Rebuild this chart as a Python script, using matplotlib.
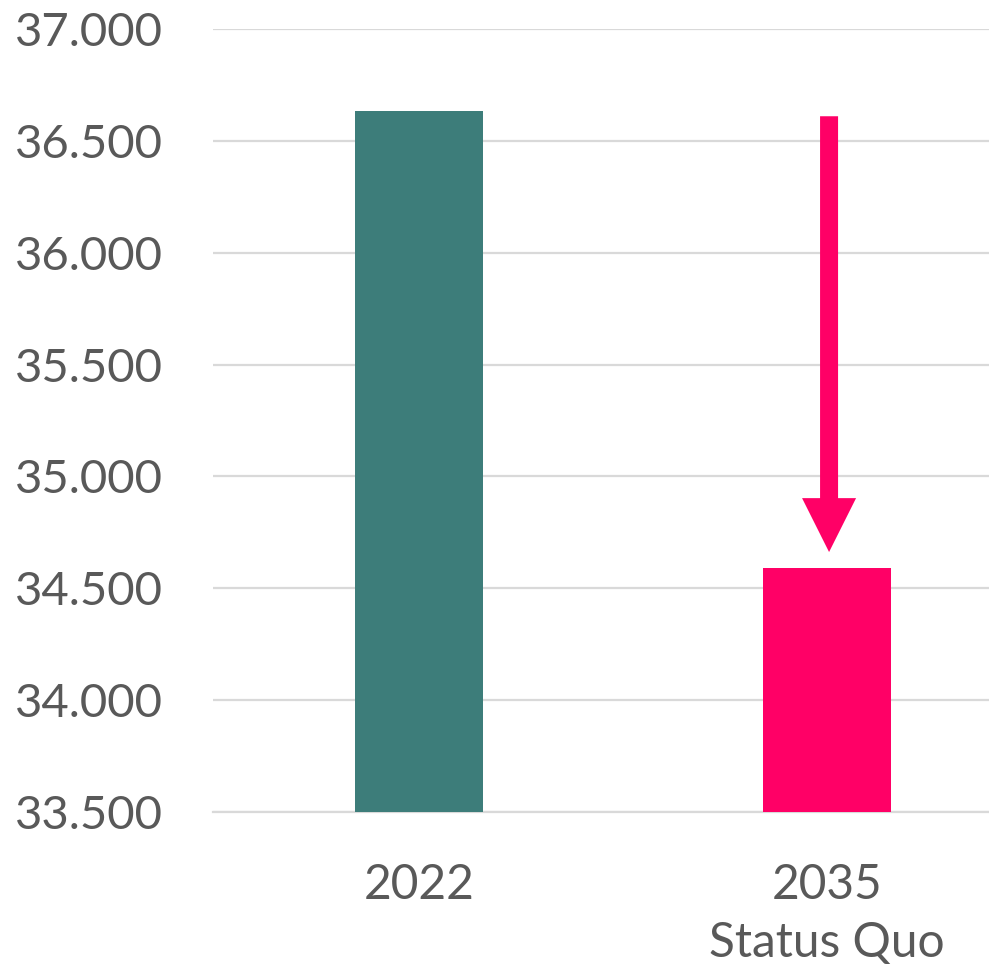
import matplotlib
matplotlib.use("Agg")
import matplotlib.pyplot as plt
from matplotlib.ticker import FuncFormatter
from matplotlib.patches import FancyArrow

categories = ["2022", "2035\nStatus Quo"]
values = [36633, 34591]
bar_colors = ["#3D7D7A", "#FF0066"]
arrow_from = 36610
arrow_to = 34662
yticks = [33500, 34000, 34500, 35000, 35500, 36000, 36500, 37000]

plt.rcParams['font.family'] = ['Lato', 'DejaVu Sans']
text_color = "#595959"

W, H = 989, 973
fig = plt.figure(figsize=(W / 100, H / 100), dpi=100)
ax = fig.add_axes([213 / W, 161 / H, 776 / W, 783 / H])

x = list(range(len(categories)))
ax.bar(x, [v - yticks[0] for v in values], bottom=yticks[0], width=0.314,
       color=bar_colors, zorder=3)

ax.set_ylim(yticks[0], yticks[-1])
ax.set_xlim(-0.505, 1.397)
ax.set_yticks(yticks)
ax.yaxis.set_major_formatter(FuncFormatter(lambda v, p: f"{int(v):,}".replace(",", ".")))
ax.set_xticks(x)
ax.set_xticklabels(categories, linespacing=1.38)

ax.grid(axis="y", color="#D9D9D9", linewidth=1.6, zorder=0)
for s in ["top", "right", "left"]:
    ax.spines[s].set_visible(False)
ax.spines["bottom"].set_color("#D9D9D9")
ax.spines["bottom"].set_linewidth(1.6)
ax.tick_params(axis="y", length=0, pad=36, labelsize=34, labelcolor=text_color)
ax.tick_params(axis="x", length=0, pad=37, labelsize=34.5, labelcolor=text_color)

ax.add_patch(FancyArrow(1.005, arrow_from, 0, arrow_to - arrow_from,
                        width=18 / 408, head_width=54 / 408, head_length=241,
                        length_includes_head=True, color="#FF0066", zorder=4,
                        linewidth=0))

fig.savefig("out.png", dpi=100)
